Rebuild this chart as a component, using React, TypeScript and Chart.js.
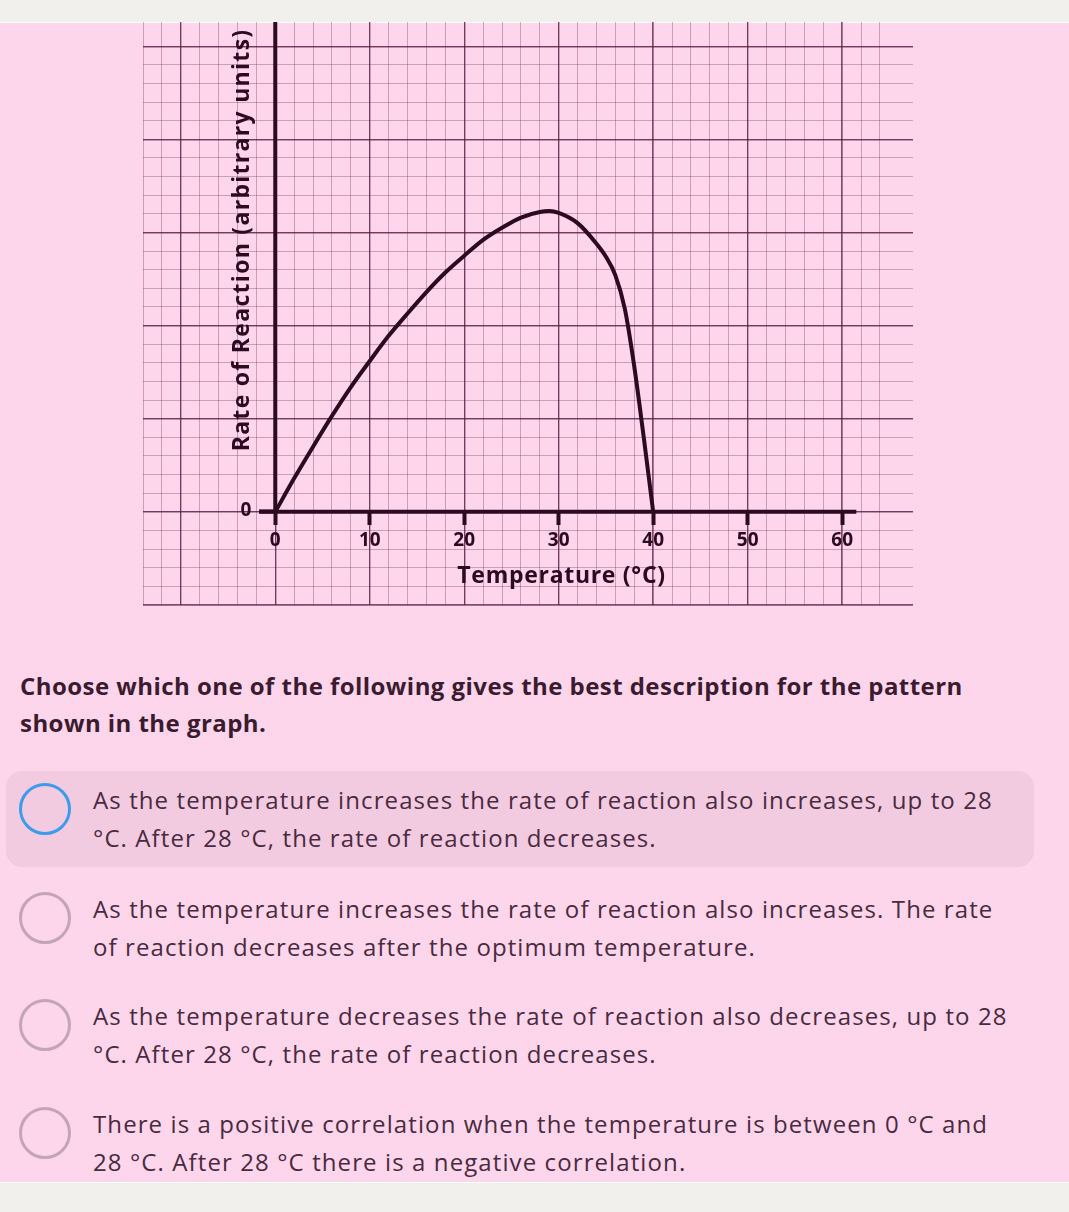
import React, { useEffect, useRef } from "react";
import { Chart, registerables } from "chart.js";

Chart.register(...registerables);

// ---- data ----
const TEMPERATURES = [0, 2, 4, 6, 8, 10, 12, 14, 16, 18, 20, 22, 24, 26, 28, 29, 30, 32, 34, 35, 36, 37, 38, 39, 40];
const RATES = [0, 3.6, 7.0, 10.3, 13.4, 16.2, 18.9, 21.3, 23.6, 25.7, 27.5, 29.2, 30.5, 31.6, 32.2, 32.3, 32.1, 31.0, 28.8, 27.4, 25.4, 21.8, 15.6, 8.0, 0];

const X_TICKS = [0, 10, 20, 30, 40, 50, 60];
const Y_TICK_LABEL = "0";
const X_AXIS_EXTENT = [-1.7, 61.5];
const Y_AXIS_EXTENT = [0, 52.6];

const X_MIN = -14;
const X_MAX = 67.5;
const Y_MIN = -10;
const Y_MAX = 52.6;

const X_TITLE = "Temperature (°C)";
const Y_TITLE = "Rate of Reaction (arbitrary units)";

const QUESTION_LINES = [
  "Choose which one of the following gives the best description for the pattern",
  "shown in the graph.",
];
const OPTIONS = [
  [
    "As the temperature increases the rate of reaction also increases, up to 28",
    "°C. After 28 °C, the rate of reaction decreases.",
  ],
  [
    "As the temperature increases the rate of reaction also increases. The rate",
    "of reaction decreases after the optimum temperature.",
  ],
  [
    "As the temperature decreases the rate of reaction also decreases, up to 28",
    "°C. After 28 °C, the rate of reaction decreases.",
  ],
  [
    "There is a positive correlation when the temperature is between 0 °C and",
    "28 °C. After 28 °C there is a negative correlation.",
  ],
];

// ---- styles ----
const PINK = "#FED6EC";
const HIGHLIGHT = "#F3CBE1";
const GREY = "#F2F0EC";
const INK = "#2B0A22";
const MAJOR = "rgba(85,30,65,0.75)";
const MINOR = "rgba(110,45,85,0.34)";
const FONT = "'Open Sans', Lato, sans-serif";

const CANVAS_TOP = 2;
const CANVAS_W = 1069;
const CANVAS_H = 630;
const AREA_TOP = 22 - CANVAS_TOP;
const AREA_BOTTOM = 605 - CANVAS_TOP;

const axisTitles = {
  id: "axisTitles",
  afterDraw(chart: any) {
    const { ctx, scales } = chart;
    const xs = scales.x;
    const ys = scales.y;
    const x0 = xs.getPixelForValue(0);
    const y0 = ys.getPixelForValue(0);
    ctx.save();
    ctx.fillStyle = INK;
    // y tick label "0"
    ctx.font = `bold 19px ${FONT}`;
    ctx.textAlign = "right";
    ctx.textBaseline = "middle";
    ctx.fillText(Y_TICK_LABEL, x0 - 24, y0 - 1);
    // titles
    ctx.font = `bold 23px ${FONT}`;
    (ctx as any).letterSpacing = "0.7px";
    ctx.textAlign = "center";
    ctx.fillText(X_TITLE, xs.getPixelForValue(30.3), y0 + 65);
    ctx.translate(x0 - 33, ys.getPixelForValue(29.2));
    ctx.rotate(-Math.PI / 2);
    (ctx as any).letterSpacing = "1.3px";
    ctx.fillText(Y_TITLE, 0, 0);
    ctx.restore();
  },
};

function gridScale(axis: "x" | "y", step: number, color: string, width: number, z: number) {
  return {
    type: "linear",
    axis,
    position: axis === "x" ? "bottom" : "left",
    min: axis === "x" ? X_MIN : Y_MIN,
    max: axis === "x" ? X_MAX : Y_MAX,
    ticks: { display: false, stepSize: step },
    grid: {
      color: (c: any) =>
        c.tick && Math.abs(c.tick.value / step - Math.round(c.tick.value / step)) < 1e-6 ? color : "rgba(0,0,0,0)",
      lineWidth: width,
      drawTicks: false,
      z,
    },
    border: { display: false },
  };
}

function GraphChart() {
  const ref = useRef<HTMLCanvasElement | null>(null);
  useEffect(() => {
    if (!ref.current) return;
    const curve = TEMPERATURES.map((t, i) => ({ x: t, y: RATES[i] }));
    const xAxisLine = X_AXIS_EXTENT.map((v) => ({ x: v, y: 0 }));
    const yAxisLine = Y_AXIS_EXTENT.map((v) => ({ x: 0, y: v }));
    const chart = new Chart(ref.current, {
      type: "line",
      data: {
        datasets: [
          {
            data: curve,
            borderColor: INK,
            borderWidth: 4,
            pointRadius: 0,
            cubicInterpolationMode: "monotone",
            borderCapStyle: "round",
            borderJoinStyle: "round",
            xAxisID: "x",
            yAxisID: "y",
          },
          {
            data: xAxisLine,
            borderColor: INK,
            borderWidth: 4,
            pointRadius: 0,
            xAxisID: "x",
            yAxisID: "y",
          },
          {
            data: yAxisLine,
            borderColor: INK,
            borderWidth: 4,
            pointRadius: 0,
            xAxisID: "x",
            yAxisID: "y",
          },
        ],
      },
      options: {
        animation: false,
        responsive: false,
        parsing: false,
        layout: {
          padding: { left: 143, right: CANVAS_W - 913, top: AREA_TOP, bottom: CANVAS_H - AREA_BOTTOM },
        },
        plugins: { legend: { display: false }, tooltip: { enabled: false } },
        scales: {
          xMinor: gridScale("x", 2, MINOR, 1, -3),
          yMinor: gridScale("y", 2, MINOR, 1, -3),
          xMajor: gridScale("x", 10, MAJOR, 1.4, -2),
          yMajor: gridScale("y", 10, MAJOR, 1.4, -2),
          x: {
            type: "linear",
            min: X_MIN,
            max: X_MAX,
            position: { y: 0 },
            afterBuildTicks: (s: any) => {
              s.ticks = X_TICKS.map((v) => ({ value: v }));
            },
            ticks: {
              autoSkip: false,
              maxRotation: 0,
              padding: 4,
              color: INK,
              font: { family: FONT, size: 19, weight: "bold" },
            },
            grid: { drawOnChartArea: false, drawTicks: true, tickLength: 13, tickWidth: 4, tickColor: INK },
            border: { display: false },
          },
          y: {
            type: "linear",
            min: Y_MIN,
            max: Y_MAX,
            position: { x: 0 },
            afterBuildTicks: (s: any) => {
              s.ticks = [{ value: 0 }];
            },
            ticks: { display: false },
            grid: { drawOnChartArea: false, drawTicks: true, tickLength: 16, tickWidth: 4, tickColor: INK },
            border: { display: false },
          },
        },
      } as any,
      plugins: [axisTitles],
    });
    return () => chart.destroy();
  }, []);
  return (
    <canvas
      ref={ref}
      width={CANVAS_W}
      height={CANVAS_H}
      style={{ display: "block", width: CANVAS_W, height: CANVAS_H }}
    />
  );
}

const OPTION_TOPS = [781, 890, 997, 1105];

export default function App() {
  return (
    <div
      style={{
        position: "absolute",
        left: 0,
        top: 0,
        width: 1069,
        height: 1212,
        background: GREY,
        overflow: "hidden",
        fontFamily: FONT,
      }}
    >
      <div
        style={{
          position: "absolute",
          left: 0,
          top: 22,
          width: 1069,
          height: 1161,
          background: PINK,
          borderTop: "1px solid #FFFFFF",
          borderBottom: "1px solid #FFFFFF",
          boxSizing: "border-box",
        }}
      />
      <div style={{ position: "absolute", left: 0, top: CANVAS_TOP }}>
        <GraphChart />
      </div>
      <div
        style={{
          position: "absolute",
          left: 20,
          top: 667,
          fontWeight: 700,
          fontSize: 24,
          letterSpacing: "0.45px",
          lineHeight: "37px",
          color: "#3B1B30",
          whiteSpace: "nowrap",
        }}
      >
        {QUESTION_LINES.map((l, i) => (
          <div key={i}>{l}</div>
        ))}
      </div>
      <div
        style={{
          position: "absolute",
          left: 6,
          top: 771,
          width: 1028,
          height: 96,
          borderRadius: 16,
          background: HIGHLIGHT,
        }}
      />
      {OPTIONS.map((lines, i) => (
        <React.Fragment key={i}>
          <div
            style={{
              position: "absolute",
              left: 19,
              top: OPTION_TOPS[i] + 2,
              width: 52,
              height: 52,
              boxSizing: "border-box",
              borderRadius: "50%",
              border: `3.5px solid ${i === 0 ? "#3D9BE9" : "#C4A4B8"}`,
            }}
          />
          <div
            style={{
              position: "absolute",
              left: 93,
              top: OPTION_TOPS[i],
              fontSize: 24,
              letterSpacing: "1.1px",
              lineHeight: "38px",
              color: "#4A2A3F",
              whiteSpace: "nowrap",
            }}
          >
            {lines.map((l, j) => (
              <div key={j}>{l}</div>
            ))}
          </div>
        </React.Fragment>
      ))}
    </div>
  );
}
